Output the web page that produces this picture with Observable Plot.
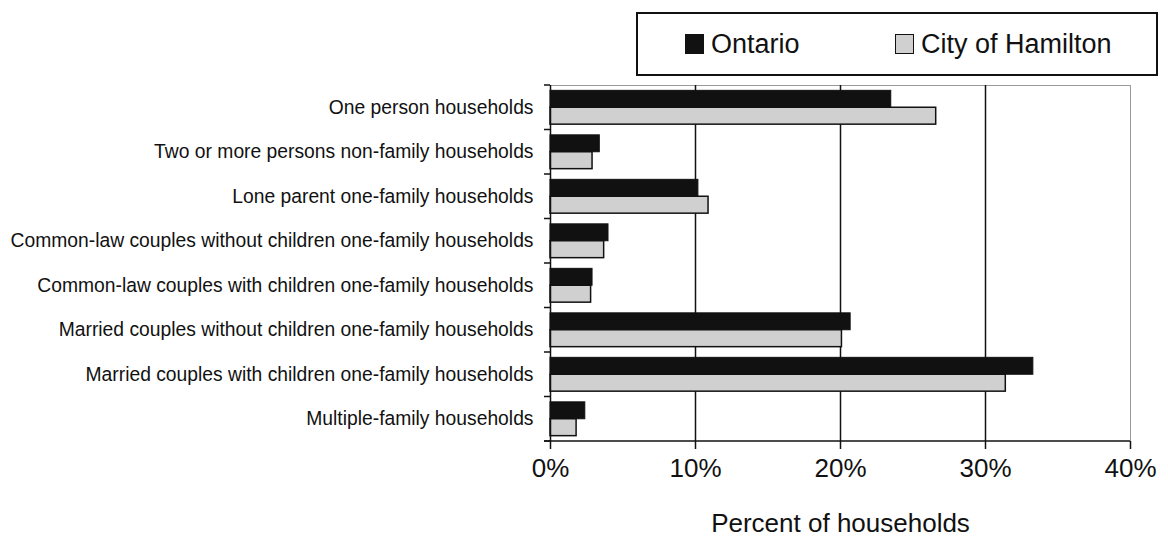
<!DOCTYPE html>
<html>
<head>
<meta charset="utf-8">
<script src="https://cdn.jsdelivr.net/npm/d3@7"></script>
<script src="https://cdn.jsdelivr.net/npm/@observablehq/plot@0.6"></script>
<style>
  html, body { margin: 0; padding: 0; background: #fff; }
  body { width: 1168px; height: 538px; position: relative; overflow: hidden;
         font-family: "Liberation Sans", Arial, sans-serif; }
  #legend { position: absolute; left: 636px; top: 12px; width: 518px; height: 60px;
            border: 2px solid #111; box-sizing: content-box; font-size: 27px; color: #111; }
  #legend .item { position: absolute; top: 0; height: 60px; display: flex; align-items: center; }
  #legend .sw { width: 17px; height: 18px; border: 1.5px solid #111; margin-right: 7px; }
  #chart { position: absolute; left: 0; top: 0; }
</style>
</head>
<body>
<div id="chart"></div>
<div id="legend"></div>
<script>
const categories = [
  "One person households",
  "Two or more persons non-family households",
  "Lone parent one-family households",
  "Common-law couples without children one-family households",
  "Common-law couples with children one-family households",
  "Married couples without children one-family households",
  "Married couples with children one-family households",
  "Multiple-family households"
];
const seriesNames = ["Ontario", "City of Hamilton"];
const ontario  = [23.5, 3.4, 10.2, 4.0, 2.9, 20.7, 33.3, 2.4];
const hamilton = [26.6, 2.9, 10.9, 3.7, 2.8, 20.1, 31.4, 1.8];
const xTicks = [0, 10, 20, 30, 40];
const colors = ["#111111", "#d0d0d0"];

const W = 1168, H = 538;
const mTop = 85, mBottom = 97, mLeft = 550, mRight = 38;
const padInner = 0.24;
const step = (H - mTop - mBottom) / categories.length;
const half = step * (1 - padInner) / 2;

const ontRows = categories.map((c, i) => ({category: c, value: ontario[i]}));
const hamRows = categories.map((c, i) => ({category: c, value: hamilton[i]}));

function boundaryTicks(index, scales, values, dims) {
  const g = d3.create("svg:g");
  const n = categories.length;
  const s = (dims.height - dims.marginTop - dims.marginBottom) / n;
  g.selectAll("line").data(d3.range(n + 1)).join("line")
    .attr("x1", dims.marginLeft - 6).attr("x2", dims.marginLeft)
    .attr("y1", k => dims.marginTop + k * s).attr("y2", k => dims.marginTop + k * s)
    .attr("stroke", "#111").attr("stroke-width", 1.5);
  g.append("line")
    .attr("x1", dims.marginLeft - 6).attr("x2", dims.width - dims.marginRight)
    .attr("y1", dims.height - dims.marginBottom).attr("y2", dims.height - dims.marginBottom)
    .attr("stroke", "#111").attr("stroke-width", 1.5);
  return g.node();
}

const chart = Plot.plot({
  width: W, height: H,
  marginTop: mTop, marginBottom: mBottom, marginLeft: mLeft, marginRight: mRight,
  style: {fontFamily: "'Liberation Sans', Arial, sans-serif", color: "#111", background: "#fff"},
  x: {domain: [0, 40]},
  y: {domain: categories, paddingInner: padInner, paddingOuter: padInner / 2, round: false},
  marks: [
    Plot.frame({anchor: "top", stroke: "#9a9a9a", strokeWidth: 1}),
    Plot.ruleX([40], {stroke: "#9a9a9a", strokeWidth: 1}),
    Plot.ruleX([10, 20, 30], {stroke: "#111", strokeWidth: 1.5}),
    Plot.barX(ontRows, {x: "value", y: "category", fill: colors[0], stroke: "#111", strokeWidth: 1, insetBottom: half}),
    Plot.barX(hamRows, {x: "value", y: "category", fill: colors[1], stroke: "#111", strokeWidth: 1.5, insetTop: half}),
    Plot.ruleX([0], {stroke: "#111", strokeWidth: 1.5}),
    boundaryTicks,
    Plot.axisY({tickSize: 0, tickPadding: 17, fontSize: 19.3, label: null}),
    Plot.axisX({ticks: xTicks, tickFormat: d => d + "%", tickSize: 8, tickPadding: 9, fontSize: 26,
                strokeWidth: 1.5, label: "Percent of households", labelAnchor: "center",
                labelArrow: "none", labelOffset: 90})
  ]
});
document.getElementById("chart").appendChild(chart);

// legend
const legend = document.getElementById("legend");
const lx = [47, 257];
seriesNames.forEach((name, i) => {
  const item = document.createElement("div");
  item.className = "item";
  item.style.left = lx[i] + "px";
  const sw = document.createElement("div");
  sw.className = "sw";
  sw.style.background = colors[i];
  const t = document.createElement("span");
  t.textContent = name;
  item.appendChild(sw); item.appendChild(t);
  legend.appendChild(item);
});
</script>
</body>
</html>
